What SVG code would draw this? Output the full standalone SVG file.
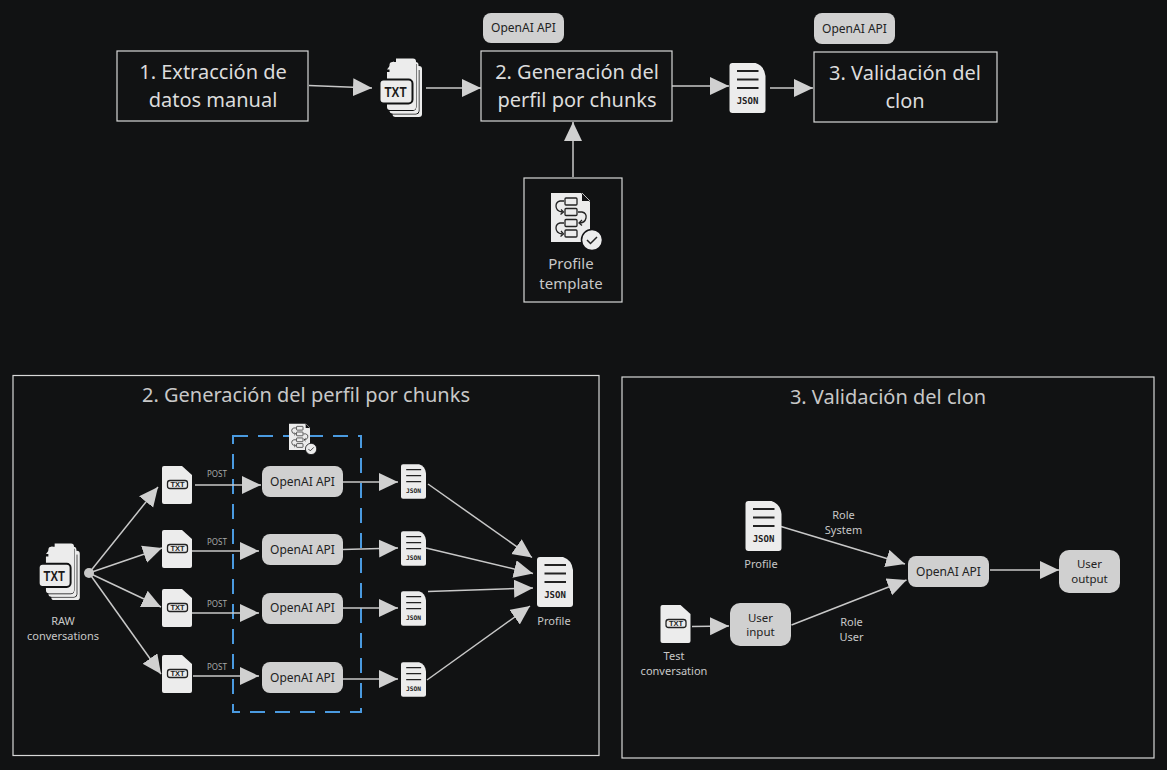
<svg xmlns="http://www.w3.org/2000/svg" width="1167" height="770" viewBox="0 0 1167 770">
<style>
text{font-family:"Noto Sans","Open Sans",sans-serif;text-anchor:middle}
.t1{font-size:20px;fill:#dcdcdc}
.t2{font-size:20px;fill:#c8c8c8}
.lb{font-size:11px;fill:#c8c8c8}
.lg{font-size:15px;fill:#c8c8c8}
.api{font-size:12px;fill:#222}
.ui{font-size:11.500px;fill:#222}
.post{font-size:8px;fill:#a8a8a8}
.box{fill:none;stroke:#d8d8d8;stroke-width:1.200}
.nd{fill:#d0d0d0}
.c{stroke:#c8c8c8;stroke-width:1.500;fill:none}
.a{marker-end:url(#ah)}
</style>
<defs>
<marker id="ah" markerUnits="userSpaceOnUse" markerWidth="20" markerHeight="20" refX="19" refY="9" orient="auto"><path d="M0 0L19 9L0 18Z" fill="#d0d0d0"/></marker>
<symbol id="json" viewBox="0 0 36 50" overflow="visible">
<path d="M3 0H26Q35 3 36 13V47Q36 50 33 50H3Q0 50 0 47V3Q0 0 3 0Z" fill="#ececec"/>
<path d="M7.500 8H29M7.500 16.500H29M7.500 25H29" stroke="#222" stroke-width="1.800" fill="none"/>
<text x="18" y="41" style="font-family:'DejaVu Sans Mono','Liberation Mono',monospace;font-weight:700;font-size:9px;fill:#222">JSON</text>
</symbol>
<symbol id="txt" viewBox="0 0 30 38" overflow="visible">
<path d="M2 0H20L30 9V36Q30 38 28 38H2Q0 38 0 36V2Q0 0 2 0Z" fill="#ececec"/>
<rect x="5.500" y="14.500" width="20" height="8" rx="2.500" fill="#ececec" stroke="#222" stroke-width="1.300"/>
<text x="15.500" y="21.300" style="font-family:'Liberation Sans',sans-serif;font-weight:700;font-size:7.500px;fill:#222">TXT</text>
</symbol>
<symbol id="stack" viewBox="0 0 43 60" overflow="visible">
<rect x="13.500" y="8" width="29.500" height="51" rx="3" fill="#ececec"/>
<path d="M40 12V53Q40 56 37 56H13" fill="none" stroke="#111213" stroke-width="1"/>
<rect x="10.500" y="4" width="29" height="51.500" rx="3" fill="#ececec"/>
<path d="M37 6V49Q37 52.500 34 52.500H10" fill="none" stroke="#111213" stroke-width="1"/>
<path d="M17 0.500H34Q37 0.500 37 3.500V49Q37 52 34 52H11Q8 52 8 49V14H13Q17 14 17 10Z" fill="#ececec"/>
<path d="M8 11.500L14.500 3V8Q14.500 11.500 11 11.500Z" fill="#ececec"/>
<rect x="0.500" y="21.500" width="33" height="24" rx="4" fill="#ececec" stroke="#111213" stroke-width="2"/>
<text x="16.500" y="39" style="font-family:'Liberation Sans',sans-serif;font-weight:700;font-size:15px;fill:#1a1a1a" textLength="22" lengthAdjust="spacingAndGlyphs">TXT</text>
</symbol>
<symbol id="tpl" viewBox="0 0 52 57" overflow="visible">
<path d="M0 0H30L39 9V49H0Z" fill="#ececec"/>
<path d="M31 0L39 8H31Z" fill="#121214"/>
<path d="M31 0L39 8" stroke="#ececec" stroke-width="0.800"/>
<g fill="none" stroke="#222" stroke-width="1.300">
<rect x="14" y="5" width="12" height="7" rx="1"/><rect x="14" y="15.500" width="12" height="7" rx="1"/><rect x="14" y="26.500" width="12" height="7" rx="1"/><rect x="14" y="37" width="12" height="7" rx="1"/>
<path d="M13 8H9Q5 9 5 13Q5 18 11 19M10 16.500L12.500 19L9.500 21.500"/>
<path d="M27 19H31Q36 20 35 25Q34 30 28 30M31 27L28 30L31 32.500"/>
<path d="M13 30H9Q5 31 5 35Q5 40 11 41M10 38L12.500 41L9.500 43.500"/>
</g>
<circle cx="41" cy="47" r="10.500" fill="#ececec" stroke="#121214" stroke-width="1.500"/>
<path d="M36 47L39.500 50.500L46 44" fill="none" stroke="#222" stroke-width="1.500"/>
</symbol>
</defs>
<rect id="background" width="1167" height="770" fill="#111213"/>

<g id="panels">
<rect class="box" x="13" y="375.500" width="586" height="380"/>
<text class="t2" x="306" y="402">2. Generación del perfil por chunks</text>
<rect class="box" x="622" y="377" width="532" height="381"/>
<text class="t2" x="888" y="404">3. Validación del clon</text>
<rect x="233" y="436" width="128" height="276" fill="none" stroke="#4a9ae0" stroke-width="2" stroke-dasharray="15 10"/>
</g>

<g id="connectors">
<path class="c a" d="M309 85.500L372 88"/>
<path class="c a" d="M426 88H481"/>
<path class="c a" d="M672 86H729"/>
<path class="c a" d="M770 88H813"/>
<path class="c a" d="M573 177V122"/>
<path class="c a" d="M89 573L158 487"/>
<path class="c a" d="M89 573L162 548"/>
<path class="c a" d="M89 573L161 607"/>
<path class="c a" d="M89 573L161 674"/>
<path class="c a" d="M195 485H261"/>
<path class="c a" d="M192 551H259"/>
<path class="c a" d="M192 613H259"/>
<path class="c a" d="M193 676H259"/>
<path class="c a" d="M343 482H398"/>
<path class="c a" d="M343 549.500L398 548"/>
<path class="c a" d="M343 608H398"/>
<path class="c a" d="M343 679H398"/>
<path class="c a" d="M428 484L532 557.500"/>
<path class="c a" d="M426 548L533 573.500"/>
<path class="c a" d="M428 591.500L533 588"/>
<path class="c a" d="M427 680L530 606"/>
<path class="c a" d="M781 526.500L905 564"/>
<path class="c a" d="M791.500 625L906.500 580"/>
<path class="c a" d="M692 626.500L729 626"/>
<path class="c a" d="M990 570H1059"/>
</g>

<g id="box-extraccion"><rect class="box" x="117" y="51" width="191" height="70"/><text class="t1" x="213" y="79">1. Extracción de</text><text class="t1" x="213" y="107">datos manual</text></g>
<g id="box-generacion"><rect class="box" x="481" y="51" width="191" height="70"/><text class="t1" x="577" y="79">2. Generación del</text><text class="t1" x="577" y="107">perfil por chunks</text></g>
<g id="box-validacion"><rect class="box" x="814" y="52" width="183" height="70"/><text class="t1" x="905" y="80">3. Validación del</text><text class="t1" x="905" y="108">clon</text></g>
<g id="api-top-1"><rect class="nd" x="483" y="13" width="81" height="30" rx="8"/><text class="api" x="523.500" y="32">OpenAI API</text></g>
<g id="api-top-2"><rect class="nd" x="814" y="13" width="81" height="31" rx="8"/><text class="api" x="854.500" y="33">OpenAI API</text></g>
<g id="icon-txt-top"><use href="#stack" x="379" y="58" width="43" height="60"/></g>
<g id="icon-json-top"><use href="#json" x="729" y="63" width="37" height="50"/></g>
<g id="box-template"><rect class="box" x="524" y="178" width="98" height="124"/><use href="#tpl" x="551" y="193" width="52" height="57"/><text class="lg" x="571" y="269">Profile</text><text class="lg" x="571" y="289">template</text></g>

<g id="raw"><use href="#stack" x="38" y="543" width="42" height="58"/><text class="lb" x="63" y="625">RAW</text><text class="lb" x="63" y="640">conversations</text></g>
<g id="junction"><circle cx="89" cy="573" r="5" fill="#c8c8c8"/></g>
<g id="txt-1"><use href="#txt" x="162" y="466" width="30" height="38"/></g>
<g id="txt-2"><use href="#txt" x="162" y="530" width="30" height="38"/></g>
<g id="txt-3"><use href="#txt" x="162" y="589" width="30" height="38"/></g>
<g id="txt-4"><use href="#txt" x="162" y="655" width="30" height="38"/></g>
<g id="post-labels"><text class="post" x="217" y="477">POST</text><text class="post" x="217" y="545">POST</text><text class="post" x="217" y="607">POST</text><text class="post" x="217" y="670">POST</text></g>
<g id="icon-template-small"><use href="#tpl" x="289" y="423" width="28" height="32"/></g>
<g id="api-1"><rect class="nd" x="262" y="466" width="81" height="31" rx="8"/><text class="api" x="302.500" y="486">OpenAI API</text></g>
<g id="api-2"><rect class="nd" x="262" y="534" width="81" height="31" rx="8"/><text class="api" x="302.500" y="554">OpenAI API</text></g>
<g id="api-3"><rect class="nd" x="262" y="593" width="81" height="31" rx="8"/><text class="api" x="302.500" y="612">OpenAI API</text></g>
<g id="api-4"><rect class="nd" x="262" y="662" width="81" height="31" rx="8"/><text class="api" x="302.500" y="682">OpenAI API</text></g>
<g id="json-1"><use href="#json" x="401" y="464" width="25" height="35"/></g>
<g id="json-2"><use href="#json" x="401" y="531" width="25" height="35"/></g>
<g id="json-3"><use href="#json" x="401" y="591" width="25" height="35"/></g>
<g id="json-4"><use href="#json" x="401" y="662" width="25" height="35"/></g>
<g id="profile-out"><use href="#json" x="537" y="557" width="36" height="50"/><text class="lb" x="554" y="625">Profile</text></g>

<g id="profile-in"><use href="#json" x="745" y="501" width="37" height="50"/><text class="lb" x="761" y="568">Profile</text></g>
<g id="txt-test"><use href="#txt" x="660" y="605" width="31" height="38"/><text class="lb" x="674" y="660">Test</text><text class="lb" x="674" y="675">conversation</text></g>
<g id="user-input"><rect class="nd" x="730" y="603" width="61" height="43" rx="10"/><text class="ui" x="760.500" y="621.500">User</text><text class="ui" x="760.500" y="635.500">input</text></g>
<g id="api-val"><rect class="nd" x="908" y="556" width="81" height="31" rx="8"/><text class="api" x="948.500" y="576">OpenAI API</text></g>
<g id="user-output"><rect class="nd" x="1059" y="550" width="61" height="43" rx="10"/><text class="ui" x="1089.500" y="568">User</text><text class="ui" x="1089.500" y="583">output</text></g>
<g id="edge-labels"><text class="lb" x="843.500" y="519">Role</text><text class="lb" x="843.500" y="534">System</text><text class="lb" x="851.500" y="626">Role</text><text class="lb" x="851.500" y="641">User</text></g>
</svg>
